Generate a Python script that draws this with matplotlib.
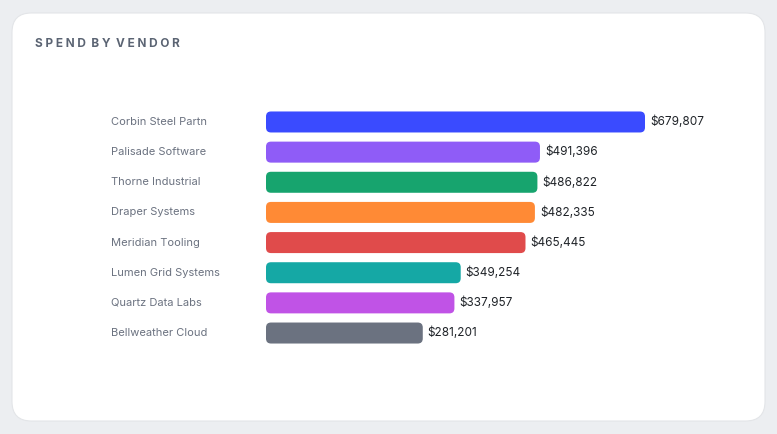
import matplotlib
matplotlib.use("Agg")
import matplotlib.pyplot as plt
from matplotlib.patches import FancyBboxPatch

vendors = ["Corbin Steel Partn", "Palisade Software", "Thorne Industrial", "Draper Systems",
           "Meridian Tooling", "Lumen Grid Systems", "Quartz Data Labs", "Bellweather Cloud"]
spend = [679807, 491396, 486822, 482335, 465445, 349254, 337957, 281201]
colors = ["#3a4bff", "#8f5cf7", "#17a46e", "#ff8a35", "#e04b4b", "#15a8a5", "#c053e6", "#6b7280"]

plt.rcParams['font.family'] = ['Inter', 'DejaVu Sans']
W, H = 777, 434
fig = plt.figure(figsize=(W/100, H/100), dpi=100)
fig.patch.set_facecolor("#eceef1")
card = FancyBboxPatch((12/W, 13/H), (765-12)/W, (421-13)/H,
                      boxstyle="round,pad=0,rounding_size=0.025", mutation_aspect=W/H,
                      transform=fig.transFigure, facecolor="white", edgecolor="#e3e5e8", lw=0.8,
                      zorder=-10)
fig.patches.append(card)
fig.text(35/W, 1-44/H, "S P E N D  B Y  V E N D O R", fontsize=8.5,
         fontweight="bold", color="#5b6473", va="center", ha="left")

xmax = 700000
pxper = 379/679807
axw = xmax*pxper
top, bot = 106.9, 348.1
ax = fig.add_axes([266/W, 1-bot/H, axw/W, (bot-top)/H])
ax.set_zorder(5)
ax.patch.set_alpha(0)
ax.set_xlim(0, xmax)
ax.set_ylim(len(vendors)-0.5, -0.5)
ax.axis("off")
xu = 1/pxper
yu = 1/30.14
bh = 21*yu
for i, (v, s, c) in enumerate(zip(vendors, spend, colors)):
    p = FancyBboxPatch((0, i-bh/2), s, bh, boxstyle=f"round,pad=0,rounding_size={5*xu}",
                       mutation_aspect=yu/xu, facecolor=c, edgecolor="none")
    ax.add_patch(p)
    ax.text(s + 5*xu, i, f"${s:,}", va="center", ha="left", fontsize=8.5, color="#1f2328")
    ax.text(-(266-111)*xu, i, v, va="center", ha="left", fontsize=8, color="#6b7280", clip_on=False)

fig.savefig("out.png", dpi=100, facecolor=fig.get_facecolor())
